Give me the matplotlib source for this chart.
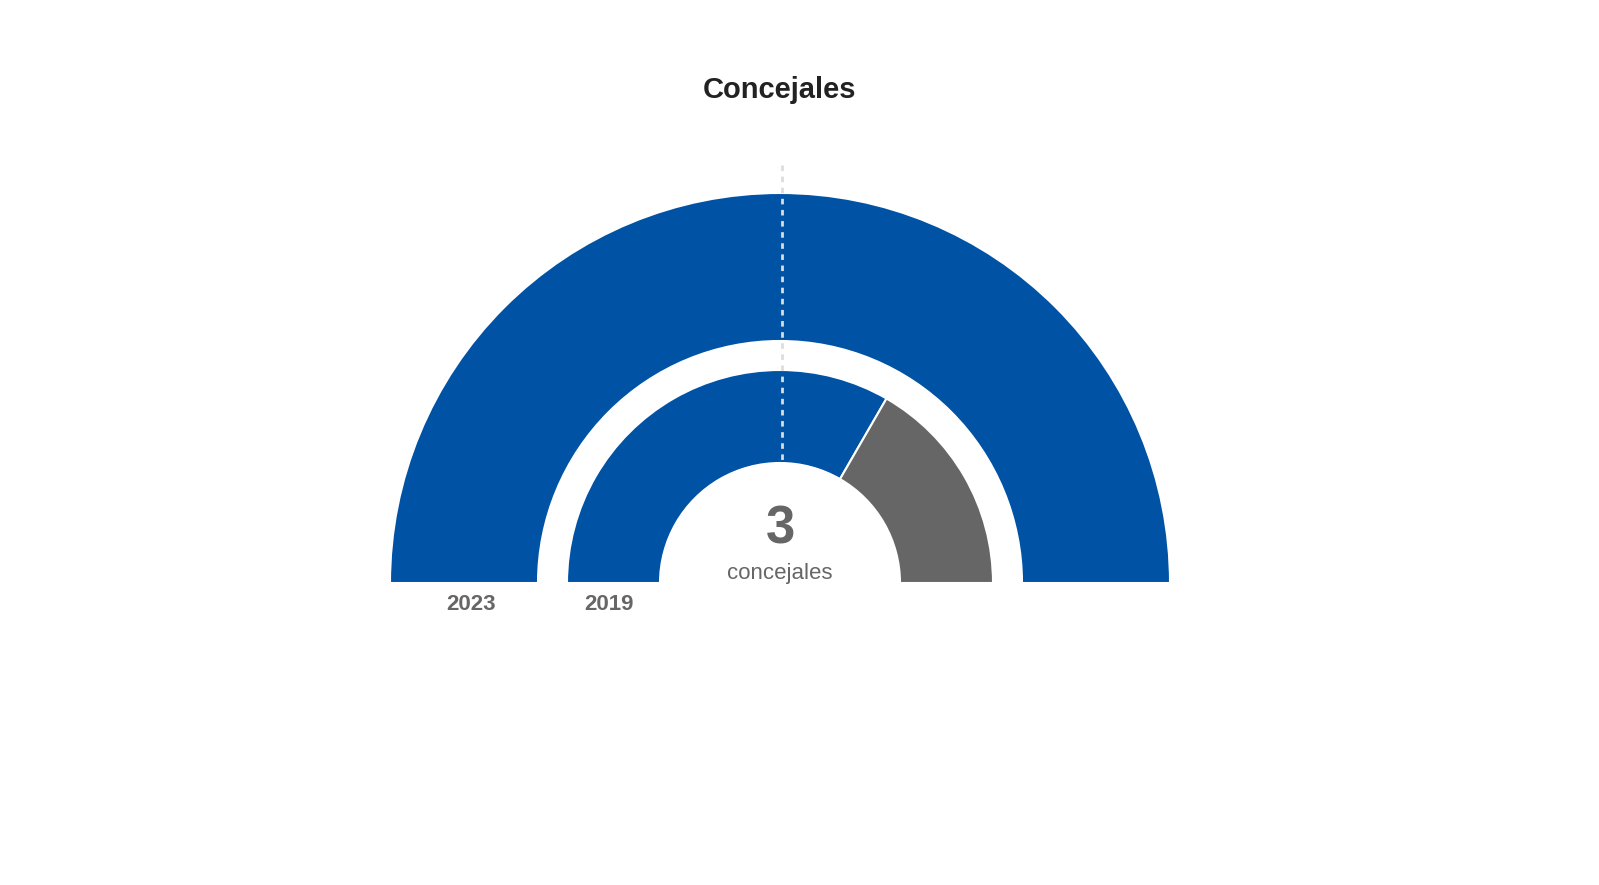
import matplotlib.pyplot as plt
from matplotlib.patches import Wedge

plt.rcParams["font.family"] = ["Liberation Sans", "DejaVu Sans"]

# Seats per party, by election year
years = ["2023", "2019"]
seats_2023 = [3]
seats_2019 = [2, 1]
colors_2023 = ["#0052a5"]
colors_2019 = ["#0052a5", "#666666"]
total_seats = 3

fig = plt.figure(figsize=(15.99, 8.85), dpi=100)
ax = fig.add_axes([0, 0, 1, 1])
ax.set_xlim(0, 1599)
ax.set_ylim(885, 0)
ax.set_aspect("equal")
ax.axis("off")

cx, cy = 780, 583
rings = [(seats_2023, colors_2023, 390, 148), (seats_2019, colors_2019, 213, 93)]

for seats, colors, r, w in rings:
    total = sum(seats)
    start = 180.0
    for s, c in zip(seats, colors):
        span = 180.0 * s / total
        # y axis is inverted, so angles are mirrored
        ax.add_patch(Wedge((cx, cy), r, -start, -(start - span), width=w,
                           facecolor=c, edgecolor="white", linewidth=1.5))
        start -= span

ax.plot([782, 782], [165, 465], color="#dddddd", linestyle=(0, (2, 2)), linewidth=2)

ax.text(780, 90, "Concejales", ha="center", va="center", fontsize=21,
        fontweight="bold", color="#222222")
ax.text(780, 530, str(total_seats), ha="center", va="center", fontsize=38,
        fontweight="bold", color="#666666")
ax.text(780, 573, "concejales", ha="center", va="center", fontsize=16, color="#666666")
ax.text(471, 605, years[0], ha="center", va="center", fontsize=16,
        fontweight="bold", color="#666666")
ax.text(609, 605, years[1], ha="center", va="center", fontsize=16,
        fontweight="bold", color="#666666")

fig.savefig("out.png", dpi=100)
